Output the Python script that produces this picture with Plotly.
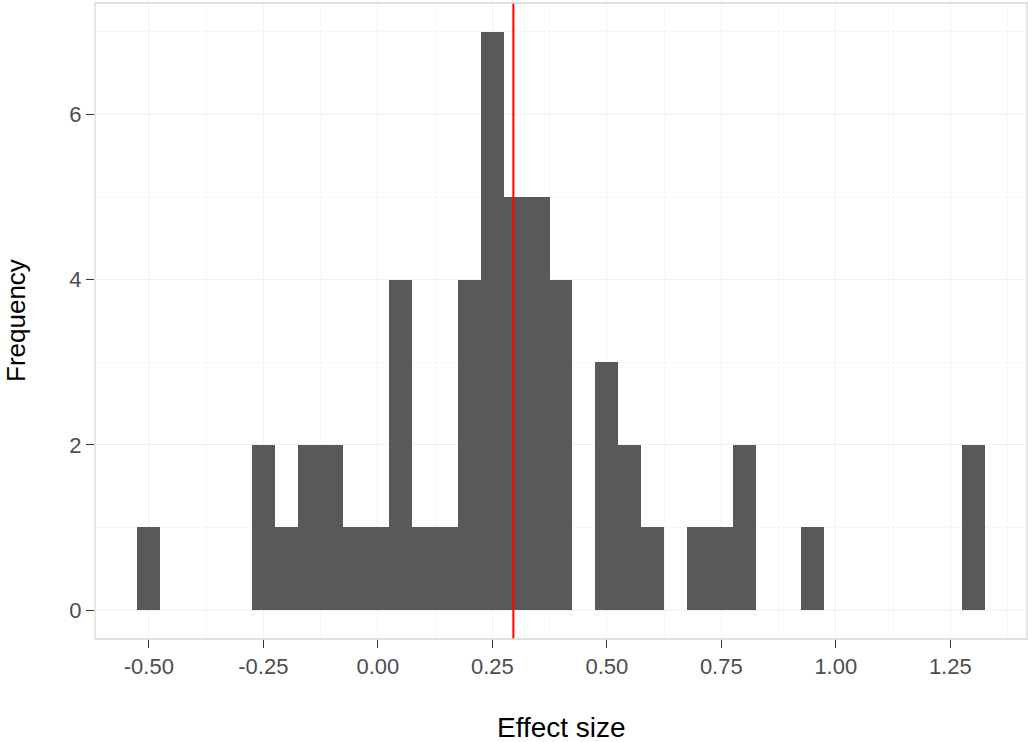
import plotly.graph_objects as go

# Histogram bins (bin centres, binwidth 0.05) and counts
bin_centers = [-0.50, -0.25, -0.20, -0.15, -0.10, -0.05, 0.00, 0.05, 0.10, 0.15,
               0.20, 0.25, 0.30, 0.35, 0.40, 0.45, 0.50, 0.55, 0.60, 0.65,
               0.70, 0.75, 0.80, 0.85, 0.90, 0.95, 1.30]
counts = [1, 2, 1, 2, 2, 1, 1, 4, 1, 1,
          4, 7, 5, 5, 4, 0, 3, 2, 1, 0,
          1, 1, 2, 0, 0, 1, 2]
bin_width = 0.05
mean_effect = 0.296

x_tickvals = [-0.50, -0.25, 0.00, 0.25, 0.50, 0.75, 1.00, 1.25]
x_ticktext = ["-0.50", "-0.25", "0.00", "0.25", "0.50", "0.75", "1.00", "1.25"]
y_tickvals = [0, 2, 4, 6]
y_ticktext = ["0", "2", "4", "6"]

x_title = "Effect size"
y_title = "Frequency"

fig = go.Figure()
fig.add_trace(go.Bar(
    x=bin_centers, y=counts, width=bin_width,
    marker=dict(color="#595959", line=dict(width=0)),
    hoverinfo="x+y", showlegend=False,
))

fig.add_shape(type="line", xref="x", yref="paper", x0=mean_effect, x1=mean_effect,
              y0=0, y1=1, line=dict(color="#FF0000", width=2), layer="above")
fig.add_shape(type="rect", xref="paper", yref="paper", x0=0, x1=1, y0=0, y1=1,
              line=dict(color="#D6D6D6", width=1.3), layer="above")

tick_font = dict(family="Liberation Sans, Arial, sans-serif", size=22, color="#4D4D4D")
title_font = dict(family="Liberation Sans, Arial, sans-serif", size=28, color="#000000")
ytitle_font = dict(family="Liberation Sans, Arial, sans-serif", size=26, color="#000000")

fig.update_layout(
    width=1028, height=742,
    margin=dict(l=95, r=1, t=3, b=103),
    paper_bgcolor="white", plot_bgcolor="white",
    bargap=0,
    xaxis=dict(
        range=[-0.6175, 1.4175], tickvals=x_tickvals, ticktext=x_ticktext,
        ticks="outside", ticklen=8, tickwidth=1.3, tickcolor="#333333",
        tickfont=tick_font, showgrid=True, gridcolor="#F9EDED", gridwidth=1.3,
        minor=dict(dtick=0.125, tick0=0, showgrid=True, gridcolor="#FCF5F5", gridwidth=0.7),
        zeroline=False, showline=False,
    ),
    yaxis=dict(
        range=[-0.35, 7.35], tickvals=y_tickvals, ticktext=y_ticktext,
        ticks="outside", ticklen=8, tickwidth=1.3, tickcolor="#333333",
        tickfont=tick_font, showgrid=True, gridcolor="#F9EDED", gridwidth=1.3,
        minor=dict(dtick=1, tick0=1, showgrid=True, gridcolor="#FCF5F5", gridwidth=0.7),
        zeroline=False, showline=False,
    ),
    annotations=[
        dict(text=x_title, xref="paper", yref="paper", x=0.5, y=0,
             yshift=-88, xanchor="center", yanchor="middle", showarrow=False,
             font=title_font),
        dict(text=y_title, xref="paper", yref="paper", x=0, y=0.5,
             xshift=-79, xanchor="center", yanchor="middle", textangle=-90,
             showarrow=False, font=ytitle_font),
    ],
)

fig.write_html("out.html")
